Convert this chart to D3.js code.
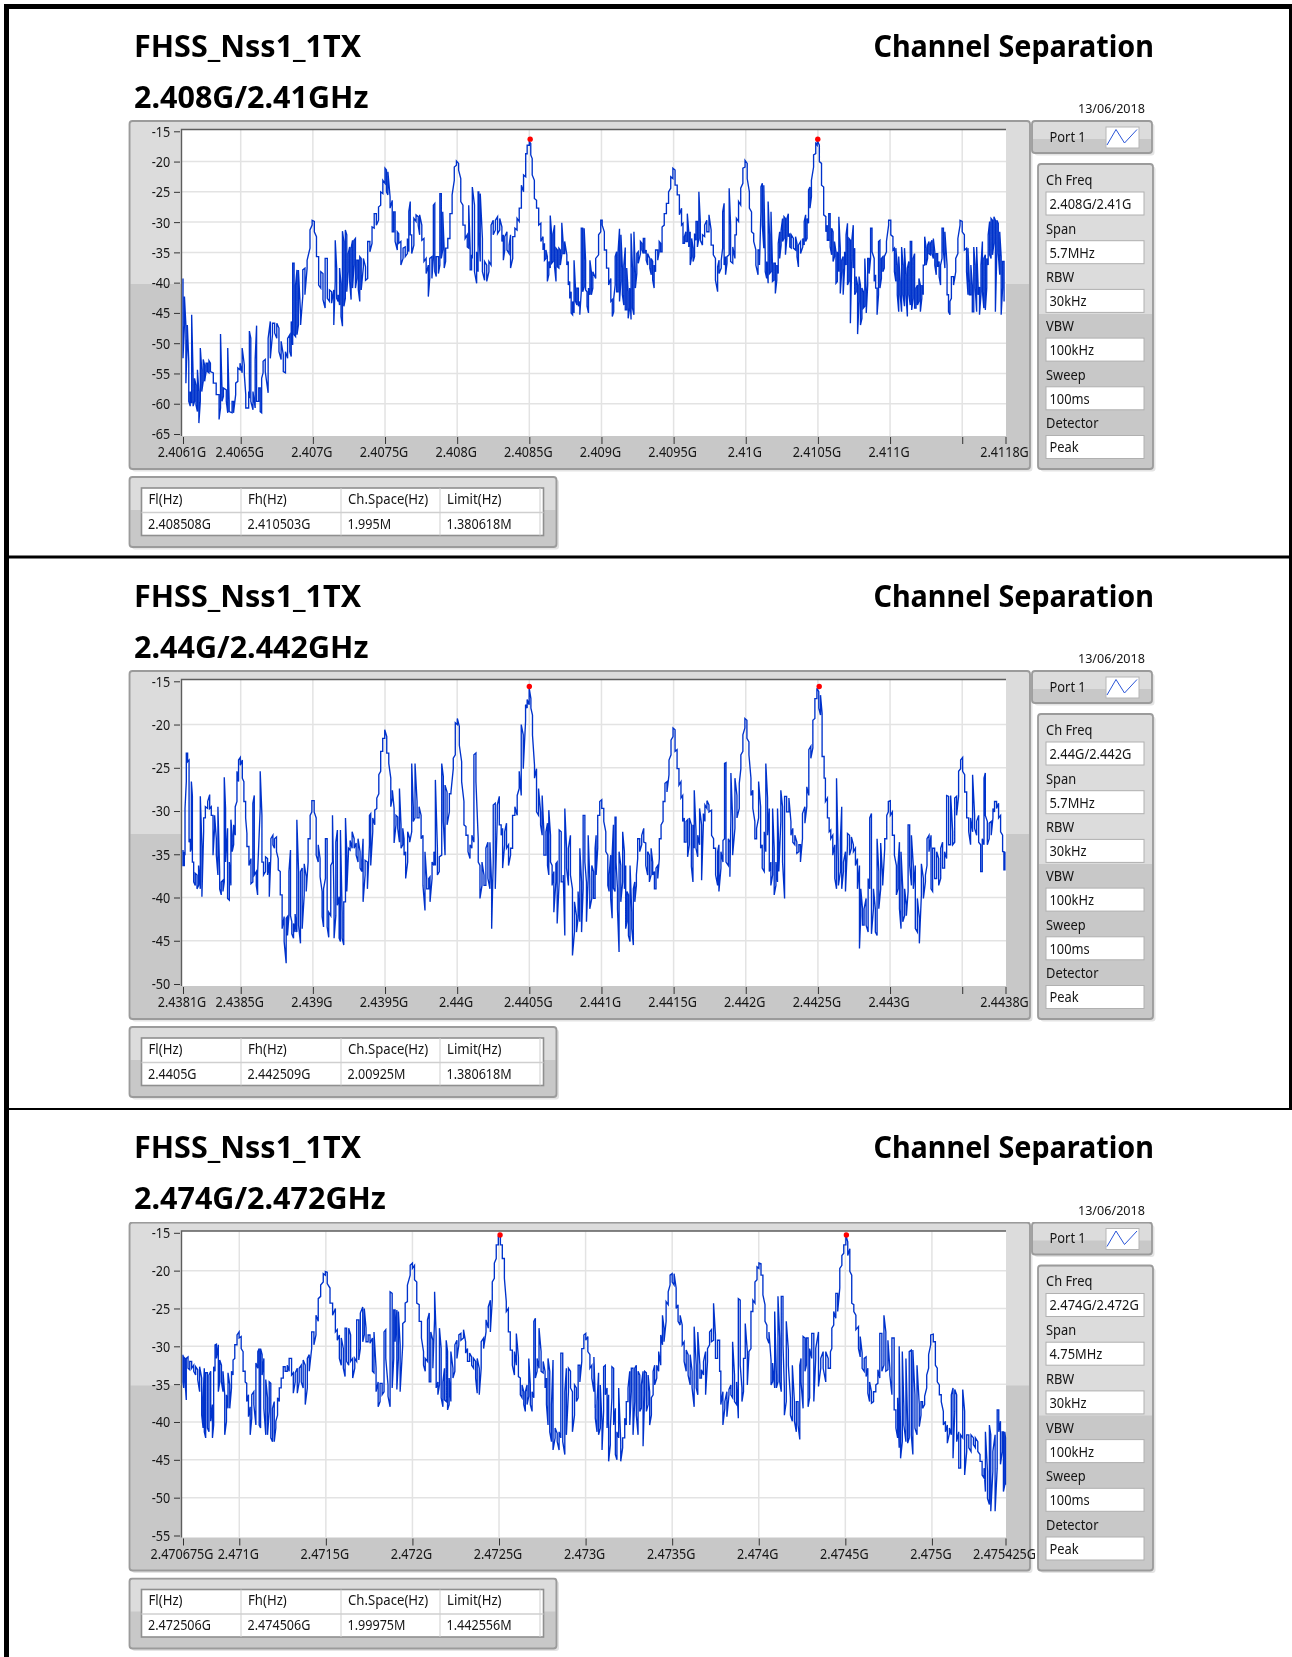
<!DOCTYPE html>
<html><head><meta charset="utf-8"><style>
html,body{margin:0;padding:0;background:#fff}
svg{display:block}
text{font-family:"Noto Sans",sans-serif;fill:#141414}
</style>
<script src="https://cdn.jsdelivr.net/npm/d3@7"></script></head><body>
<svg id="c" width="1292" height="1657"></svg>
<script>
const titleLeft = "FHSS_Nss1_1TX";
const titleRight = "Channel Separation";
const dateLabel = "13/06/2018";
const portLabel = "Port 1";
const subtitles = ["2.408G/2.41GHz", "2.44G/2.442GHz", "2.474G/2.472GHz"];
const yDomains = [[-15, -65], [-15, -50], [-15, -55]];
const spans = [5700, 5700, 4750];
const yTicks = [
  [-15, -20, -25, -30, -35, -40, -45, -50, -55, -60, -65],
  [-15, -20, -25, -30, -35, -40, -45, -50],
  [-15, -20, -25, -30, -35, -40, -45, -50, -55]
];
const xTicks = [
  [0, 400, 900, 1400, 1900, 2400, 2900, 3400, 3900, 4400, 4900, 5400, 5700],
  [0, 400, 900, 1400, 1900, 2400, 2900, 3400, 3900, 4400, 4900, 5400, 5700],
  [0, 325, 825, 1325, 1825, 2325, 2825, 3325, 3825, 4325, 4750]
];
const xLabels = [
  ["2.4061G", "2.4065G", "2.407G", "2.4075G", "2.408G", "2.4085G", "2.409G", "2.4095G", "2.41G", "2.4105G", "2.411G", "", "2.4118G"],
  ["2.4381G", "2.4385G", "2.439G", "2.4395G", "2.44G", "2.4405G", "2.441G", "2.4415G", "2.442G", "2.4425G", "2.443G", "", "2.4438G"],
  ["2.470675G", "2.471G", "2.4715G", "2.472G", "2.4725G", "2.473G", "2.4735G", "2.474G", "2.4745G", "2.475G", "2.475425G"]
];
const paramNames = ["Ch Freq", "Span", "RBW", "VBW", "Sweep", "Detector"];
const paramValues = [
  ["2.408G/2.41G", "5.7MHz", "30kHz", "100kHz", "100ms", "Peak"],
  ["2.44G/2.442G", "5.7MHz", "30kHz", "100kHz", "100ms", "Peak"],
  ["2.474G/2.472G", "4.75MHz", "30kHz", "100kHz", "100ms", "Peak"]
];
const tableHead = ["Fl(Hz)", "Fh(Hz)", "Ch.Space(Hz)", "Limit(Hz)"];
const tableRows = [
  ["2.408508G", "2.410503G", "1.995M", "1.380618M"],
  ["2.4405G", "2.442509G", "2.00925M", "1.380618M"],
  ["2.472506G", "2.474506G", "1.99975M", "1.442556M"]
];
// marker frequency (kHz from the sweep start), level (dBm)
const peaks = [
  [[2406, -16.3], [4399, -16.3]],
  [[2400, -15.6], [4409, -15.6]],
  [[1831, -15.3], [3831, -15.3]]
];
// [kHz from the sweep start, upper dBm, lower dBm] for each trace column
const trace1 = [[0,-39.3,-52.5],[10,-42.3,-47],[20,-47,-56.6],[30,-47,-49.2],[40,-53,-59.6],[50,-58,-60.4],[60,-45.3,-59.9],[70,-55.2,-60.4],[80,-55.8,-59.6],[90,-56.9,-60.2],[100,-54.4,-61.3],[110,-58,-63.2],[120,-50.8,-59.6],[130,-54.4,-58],[140,-52.7,-56.3],[150,-53.6,-56.3],[160,-53.3,-54.7],[170,-53.3,-54.7],[180,-52.9,-54.9],[190,-53.3,-54.7],[210,-54.9,-56.6],[230,-56.6,-58.5],[250,-58.5,-62.6],[260,-48.5,-60.7],[270,-57.4,-59.6],[280,-57.4,-58.8],[300,-57.7,-59.6],[310,-50.8,-61.5],[320,-59.6,-61.3],[340,-59.6,-61.5],[350,-59.6,-61.5],[365,-56.6,-58.5],[380,-54.1,-56.3],[395,-53.3,-54.4],[410,-50.8,-54.9],[425,-53.6,-55.2],[435,-58.5,-60.7],[455,-58,-60.7],[460,-48,-59.1],[470,-49.2,-59.6],[485,-58,-61],[500,-52.7,-60.7],[510,-47.1,-59.6],[525,-57.4,-59.6],[535,-57.4,-61.3],[545,-55.8,-61.5],[555,-53,-54.9],[570,-52.7,-54.7],[590,-49.2,-58.2],[605,-46.4,-52.5],[620,-46.7,-48.6],[635,-46.7,-48.3],[650,-46.7,-49.2],[665,-47.5,-51.4],[680,-49.7,-52.7],[695,-51.9,-54.7],[710,-51.4,-54.9],[725,-49.2,-52.5],[740,-48.6,-51.4],[750,-46.4,-52.2],[760,-36.8,-50.3],[770,-36.8,-48.6],[780,-40.4,-48.9],[790,-37.9,-48.6],[800,-37.9,-47],[815,-45.3,-47],[830,-37.9,-42.3],[845,-37.6,-42],[860,-36.3,-37.6],[880,-31.3,-34.3],[895,-29.7,-30.5],[910,-29.9,-31.6],[925,-32.4,-35.7],[940,-35.7,-40.4],[955,-38.2,-40.9],[970,-38.5,-42.8],[985,-36,-44.2],[1000,-36,-42.6],[1015,-41.2,-43.1],[1030,-41.5,-43.4],[1045,-41.2,-47],[1055,-33,-39.8],[1065,-37.6,-42.6],[1075,-42,-43.1],[1085,-37.6,-43.7],[1095,-40.1,-45.6],[1105,-31.5,-47.2],[1115,-33.2,-43.9],[1125,-31.3,-42.6],[1135,-32.1,-41.5],[1145,-35.2,-38.2],[1155,-34.1,-39.8],[1165,-34.3,-42.8],[1175,-33,-40.9],[1185,-33,-37.1],[1195,-32.7,-40.9],[1205,-36.3,-39.3],[1215,-36.3,-41.2],[1225,-35.7,-43.1],[1235,-36,-41.2],[1250,-36,-37.4],[1265,-37.4,-39.6],[1280,-33.2,-39.3],[1295,-33.2,-34.9],[1310,-30.8,-33.5],[1325,-28.6,-31],[1340,-28.6,-30.5],[1355,-27.5,-29.7],[1370,-25,-27.2],[1385,-23.1,-25.3],[1400,-21.1,-23.6],[1410,-21.4,-25],[1420,-21.7,-25.5],[1435,-25.8,-27.7],[1450,-26.4,-31.6],[1460,-28.3,-31.6],[1470,-28.3,-33.2],[1485,-31.6,-34.6],[1495,-31.9,-33.5],[1510,-33.2,-37.1],[1525,-34.3,-36],[1540,-34.1,-35.7],[1555,-32.7,-35.2],[1565,-28.2,-34.9],[1575,-26.6,-32.1],[1585,-32.1,-35.2],[1600,-29.4,-33.8],[1615,-28.8,-29.9],[1630,-29.1,-30.5],[1640,-28.8,-32.1],[1655,-30.5,-33],[1670,-32.7,-36.5],[1685,-36,-38.5],[1700,-37.1,-42.3],[1710,-36,-39.3],[1725,-35.7,-39.3],[1735,-27.2,-36],[1745,-26.9,-38.2],[1755,-35.7,-39],[1770,-35.7,-38.5],[1780,-25.3,-37.1],[1790,-25.3,-36],[1800,-28.3,-34.6],[1810,-34.6,-37.6],[1820,-34.3,-36.5],[1835,-32.7,-34.3],[1850,-28.6,-32.7],[1865,-25.5,-28.6],[1880,-20.9,-23.1],[1895,-19.9,-20.6],[1910,-20.3,-21.4],[1925,-22.8,-26.6],[1940,-27.2,-30.5],[1955,-30.5,-32.7],[1970,-32.1,-34.1],[1980,-27.2,-34.3],[1990,-34.3,-37.9],[2000,-35.4,-37.9],[2005,-24.2,-36],[2020,-27.2,-38.2],[2035,-34.9,-40.1],[2045,-25,-38.2],[2050,-25,-31.6],[2060,-25.3,-36.5],[2075,-32.7,-38.2],[2090,-36.5,-39.6],[2105,-37.1,-39.8],[2120,-36.5,-38.2],[2135,-30.5,-37.1],[2150,-29.7,-32.1],[2165,-29.7,-31.3],[2180,-29.1,-31.9],[2195,-29.4,-31.3],[2210,-30.8,-33.2],[2220,-32.1,-36.3],[2230,-32.4,-34.6],[2245,-31.6,-34.6],[2260,-33.8,-35.2],[2270,-32.1,-37.6],[2285,-32.4,-36],[2300,-31,-32.4],[2315,-29.4,-31.3],[2330,-27.7,-29.9],[2345,-23.9,-27.7],[2360,-22.2,-25],[2375,-18.7,-22.5],[2385,-17.3,-18.7],[2400,-16.7,-17.3],[2410,-17,-18.9],[2420,-19.5,-22.2],[2435,-23.1,-26.1],[2450,-26.4,-27.7],[2465,-27.7,-30.5],[2480,-30.2,-33.2],[2495,-32.4,-34.6],[2505,-33.5,-36.3],[2515,-34.6,-36],[2525,-35.7,-39.8],[2535,-36.5,-38.7],[2545,-28.9,-37.6],[2555,-32.1,-36.8],[2565,-31.9,-36.5],[2575,-30.5,-37.4],[2585,-34.3,-39.8],[2595,-34.6,-37.4],[2605,-34.3,-37.6],[2615,-34.6,-37.1],[2625,-30.1,-35.4],[2635,-33.5,-35.2],[2645,-33.2,-35.2],[2660,-35.4,-37.1],[2670,-36.5,-40.4],[2680,-39.8,-42.6],[2690,-41.5,-45],[2700,-43.1,-45.3],[2710,-36.3,-45],[2720,-40.9,-43.1],[2730,-40.9,-43.7],[2740,-40.9,-43.9],[2750,-43.1,-45.3],[2760,-31,-41.5],[2770,-31,-41.5],[2780,-31,-40.7],[2790,-36.3,-41.2],[2800,-41.5,-43.9],[2810,-40.9,-45],[2820,-36.3,-42],[2830,-38.2,-42],[2840,-38.2,-40.9],
[2860,-36,-39.3],[2880,-32.1,-35.4],[2895,-29.7,-31.6],[2905,-29.7,-30.5],[2920,-31.6,-34.6],[2935,-34.6,-37.6],[2950,-37.6,-40.4],[2965,-39.3,-43.1],[2975,-42.8,-45.6],[2985,-42.6,-44.8],[2995,-35.7,-40.4],[3005,-34.9,-41.5],[3015,-34.9,-41.5],[3025,-31.1,-43.1],[3035,-32.1,-39.8],[3045,-37.6,-42],[3055,-37.1,-43.7],[3065,-34.2,-44.5],[3075,-37.6,-44.5],[3085,-41.5,-45.9],[3095,-40.9,-44.2],[3105,-31.9,-46.1],[3115,-37.6,-44.2],[3125,-31.6,-45.3],[3135,-38.5,-40.9],[3145,-35.2,-38.5],[3155,-34.9,-36.8],[3170,-33.2,-35.2],[3180,-33.5,-34.6],[3190,-32.7,-35.2],[3200,-32.7,-35.2],[3210,-34.6,-36.3],[3220,-35.2,-37.1],[3235,-36,-37.6],[3245,-36,-38.7],[3255,-36.5,-39.6],[3265,-37.1,-40.9],[3275,-34.6,-38.2],[3290,-34.6,-36.3],[3300,-33.2,-34.9],[3310,-33.5,-34.9],[3320,-30.8,-34.9],[3335,-28.6,-30.5],[3350,-26.9,-28.6],[3365,-25,-26.9],[3380,-22.5,-24.4],[3395,-21.1,-22.8],[3410,-21.4,-23.9],[3425,-23.9,-25.5],[3440,-25.5,-28.8],[3455,-27.7,-30.5],[3465,-30.2,-33.5],[3475,-32.4,-33.5],[3485,-31.6,-33.2],[3495,-28.6,-33.2],[3505,-31.6,-34.1],[3515,-31.6,-37.1],[3525,-32.7,-35.7],[3535,-34.3,-36.5],[3545,-31.9,-35.7],[3555,-29.9,-33],[3565,-29.9,-34.1],[3575,-25,-32.7],[3585,-29.9,-33],[3600,-32.1,-33.8],[3615,-30.5,-32.4],[3630,-29.7,-31.6],[3645,-28.8,-31.6],[3660,-31.3,-33.8],[3675,-33.8,-35.4],[3690,-36,-39.6],[3705,-37.4,-41.5],[3715,-36.3,-38.5],[3730,-36.3,-37.6],[3740,-28.3,-34.3],[3750,-26.9,-37.1],[3760,-35.7,-38.7],[3770,-35.7,-36.8],[3785,-24.4,-35.4],[3795,-30.5,-36.5],[3810,-34.1,-36.8],[3825,-32.1,-36],[3835,-29.4,-32.1],[3850,-26.6,-29.9],[3865,-24.4,-27.2],[3880,-21.1,-23.6],[3895,-19.8,-20.9],[3910,-20.3,-22.8],[3925,-25,-27.7],[3940,-28.3,-31.6],[3955,-31.9,-33.2],[3970,-34.6,-37.1],[3985,-34.6,-38.7],[3995,-34.6,-37.1],[4005,-24.2,-28.3],[4015,-23.6,-30.5],[4025,-23.9,-34.3],[4035,-35.4,-38.2],[4045,-36.5,-39.3],[4055,-26.6,-40.1],[4065,-32.1,-38.5],[4075,-28.3,-38.2],[4085,-37.1,-39.8],[4095,-36.8,-39.6],[4105,-36.8,-41.8],[4115,-37.1,-39.6],[4125,-33.5,-38.5],[4135,-31.6,-36],[4145,-31.3,-33.8],[4155,-29.4,-33.2],[4165,-29.1,-32.7],[4175,-29.4,-35.4],[4185,-29.4,-32.7],[4195,-28.6,-32.4],[4205,-31.9,-34.1],[4215,-32.1,-34.3],[4230,-32.7,-34.3],[4245,-32.4,-34.6],[4255,-33.5,-35.7],[4265,-33.8,-37.4],[4280,-33.2,-35.2],[4295,-32.7,-34.1],[4305,-29.9,-33.8],[4315,-28.8,-33.2],[4325,-29.4,-32.7],[4335,-24.7,-30.2],[4345,-24.2,-27.7],[4355,-23.1,-25.8],[4370,-18.9,-20.9],[4385,-17,-18.7],[4395,-16.5,-17.3],[4410,-17.3,-20],[4425,-20.3,-23.9],[4440,-24.2,-28.8],[4455,-29.1,-31.6],[4465,-30.5,-33],[4475,-28.6,-33],[4485,-28.6,-34.1],[4495,-31,-35.4],[4505,-31.6,-36.5],[4515,-33.2,-35.7],[4525,-34.9,-40.1],[4535,-34.9,-39.8],[4545,-29.1,-38.2],[4555,-34.3,-41.8],[4565,-36.3,-38.2],[4575,-35.7,-42],[4585,-34.9,-37.6],[4595,-32.1,-37.1],[4605,-30.2,-40.4],[4615,-32.7,-39.8],[4625,-33,-46.7],[4635,-33,-36],[4645,-30.5,-37.6],[4655,-34.3,-42],[4665,-39,-41.5],[4675,-40.4,-48.5],[4685,-39,-43.1],[4695,-40.4,-47],[4705,-40.9,-45.9],[4715,-41.5,-44.2],[4725,-36,-43.9],[4735,-41.5,-45],[4745,-36,-40.4],[4755,-36,-38.5],[4765,-31,-36],[4775,-31,-34.9],[4790,-36,-39.8],[4800,-38.7,-40.9],[4810,-40.9,-45.3],[4820,-33.2,-42],[4830,-33,-40.9],[4840,-36,-39.3],[4850,-35.7,-38.2],[4860,-35.7,-37.6],[4875,-33.2,-34.9],[4890,-29.7,-30.5],[4905,-29.7,-32.1],[4920,-32.4,-34.6],[4930,-34.3,-38.2],[4940,-34.3,-39.8],[4950,-37.1,-42],[4960,-35.7,-44.8],[4970,-39.8,-42],[4980,-34.1,-44.8],[4990,-37.1,-42],[5000,-34.3,-43.9],[5010,-38.7,-42],[5020,-37.6,-45.6],[5030,-36.5,-42],[5040,-33.2,-43.7],[5050,-33.2,-44.5],[5060,-36,-42.6],[5070,-35.2,-44.2],[5080,-40.9,-44.2],[5090,-40.4,-43.7],[5100,-39.3,-43.1],[5110,-40.4,-44.8],[5120,-40.4,-42.6],[5130,-37.1,-42],[5140,-32.4,-37.1],[5150,-34.3,-37.1],[5160,-33.8,-36],[5170,-33.2,-35.2],[5180,-33.5,-35.4],[5190,-33,-35.2],[5200,-32.7,-36],[5210,-34.9,-37.1],[5220,-35.2,-38.7],[5230,-35.2,-37.4],[5240,-36.5,-39],[5250,-37.1,-40.4],[5260,-31,-36],[5270,-31,-34.9],[5280,-31.6,-37.6],[5295,-37.1,-42],[5305,-42,-44.8],[5315,-43.1,-45.3],[5325,-39,-42.6],[5340,-39,-40.4],[5355,-36,-38.2],[5370,-32.7,-35.2],[5385,-29.7,-30.5],[5400,-29.9,-31.6],[5415,-32.1,-34.6],[5430,-34.3,-38.2],[5440,-34.3,-42],[5450,-40.1,-42],[5460,-37.1,-42],[5470,-40.4,-44.8],[5480,-34.1,-44.8],[5490,-37.1,-40.9],[5500,-34.1,-44.8],[5510,-40.4,-42],[5520,-40.7,-45.3],[5530,-37.1,-42],[5540,-33.2,-41.5],[5550,-36,-44.2],[5560,-35.4,-44.5],[5570,-36,-40.9],[5580,-32.1,-37.1],[5590,-29.9,-35.4],[5600,-29.4,-36],[5610,-29.7,-35.4],[5620,-29.1,-33.5],[5630,-29.7,-44.8],[5640,-29.7,-34.9],[5650,-30.2,-35.2],[5660,-31.6,-38.7],[5670,-35.7,-45.3],[5680,-36.5,-40.9],[5690,-36.5,-43.1]];
const trace2 = [[0,-34.5,-36.3],[9,-34.7,-36.3],[14,-29.7,-35.1],[23,-23.3,-26.6],[32,-23.3,-24.3],[42,-24.1,-33.6],[51,-33.2,-34.7],[58,-26.6,-34.3],[65,-28.2,-35.9],[74,-35.9,-38.2],[85,-37.2,-38.6],[97,-37.4,-39],[108,-36.3,-38.6],[120,-28.3,-39],[131,-34.1,-39.9],[143,-30.8,-32.4],[155,-29.5,-30.8],[171,-28.9,-29.7],[185,-28.1,-29.7],[196,-29.5,-30.5],[208,-30.5,-35.1],[219,-30.5,-32],[231,-33.2,-35.1],[242,-29.5,-37.4],[254,-37,-39],[265,-38.2,-39.7],[277,-38,-39.3],[286,-26.1,-38.2],[295,-29.7,-35.9],[309,-32,-40.1],[321,-35.9,-40.3],[332,-31,-38.6],[341,-32.8,-34.7],[351,-31.6,-33.9],[362,-29.5,-32.8],[374,-25.4,-28.9],[385,-24.1,-26.6],[397,-23.8,-24.7],[411,-24.1,-26.2],[422,-26.6,-28.9],[434,-28.9,-30.8],[443,-32.6,-34.1],[457,-34.1,-36.3],[471,-35.5,-38.4],[484,-29.1,-38.2],[494,-28.2,-37.4],[508,-37,-38.6],[517,-37.2,-39.7],[535,-25.4,-29.7],[547,-30.5,-35.9],[558,-35.9,-37.4],[572,-35.3,-37],[586,-35.5,-37.4],[598,-35.9,-39.9],[609,-33.2,-35.1],[623,-32.8,-33.9],[634,-33.2,-34.3],[648,-33,-34.7],[660,-35.5,-36.8],[674,-37,-39.7],[687,-39.7,-43.6],[701,-42.2,-45.1],[715,-42.4,-47.6],[724,-42.2,-44.4],[734,-37,-42.1],[745,-34.5,-42.1],[754,-42.8,-44.2],[766,-43,-44.7],[777,-41.9,-44],[789,-31,-44],[801,-37,-43.2],[814,-37,-45.3],[826,-36.6,-43.6],[840,-36.1,-39.7],[854,-37.6,-39.3],[867,-33.2,-35.9],[881,-30.5,-33.2],[893,-28.8,-30.1],[909,-28.8,-30.1],[923,-30.8,-35.1],[937,-33.9,-35.9],[950,-35.5,-37.6],[964,-39.3,-42.2],[974,-39,-43.4],[987,-33.2,-37.8],[999,-33.2,-43.4],[1010,-41.7,-44.6],[1024,-36.3,-42.1],[1036,-30.5,-35.9],[1047,-40.9,-44.7],[1059,-33.6,-42.1],[1070,-32.2,-40.9],[1082,-39.9,-44.7],[1091,-32.2,-45.1],[1103,-41.7,-44.7],[1114,-40.5,-45.5],[1126,-30.8,-40.5],[1135,-34.7,-39.3],[1147,-34.3,-34.7],[1158,-33.4,-34.5],[1172,-32.4,-34.3],[1186,-33.2,-34.3],[1200,-33.7,-35.1],[1213,-33.2,-35.9],[1227,-34.7,-36.6],[1239,-35.7,-37],[1248,-33.2,-40.5],[1262,-35.7,-37.4],[1278,-35.9,-39],[1292,-30.5,-33.9],[1301,-30.3,-36.3],[1315,-30.8,-32.4],[1329,-29.9,-31.6],[1343,-28.5,-29.7],[1357,-25.8,-28],[1370,-23.1,-25.4],[1384,-21.6,-23.1],[1398,-20.6,-21.6],[1412,-21.4,-23.3],[1426,-23.3,-24.5],[1440,-26.2,-29.5],[1451,-27.6,-28.5],[1463,-29.7,-33.7],[1476,-30.5,-31.6],[1488,-30.7,-32],[1500,-27.4,-33.6],[1511,-31.6,-34.3],[1523,-32,-33.9],[1532,-33.2,-35.1],[1543,-34.7,-37.8],[1557,-32.4,-35.9],[1571,-33.2,-33.6],[1585,-24.5,-32.4],[1596,-29.5,-31.2],[1608,-24.5,-30.8],[1622,-28.9,-30.8],[1636,-29.5,-30.8],[1650,-30.5,-33.2],[1663,-32.8,-38.6],[1677,-34.7,-41.5],[1689,-37.8,-39],[1703,-37.8,-39],[1712,-37.6,-40.5],[1726,-35.9,-37.8],[1739,-34.7,-36.3],[1749,-26.4,-36.3],[1763,-34.3,-37.4],[1776,-35.3,-37],[1793,-24.5,-35.1],[1804,-26,-31.2],[1816,-27,-35.1],[1830,-27.8,-31.6],[1846,-28,-30.1],[1857,-27.8,-28],[1873,-23.9,-25.1],[1887,-19.8,-23.5],[1901,-19.3,-20],[1915,-20.2,-22.4],[1931,-24.3,-26.6],[1947,-28.9,-31.6],[1961,-31.8,-32.8],[1975,-32.8,-34.7],[1989,-33.9,-35.5],[2002,-32.8,-34.3],[2016,-23.5,-33.6],[2030,-23.3,-26.6],[2046,-33.2,-35.9],[2058,-36.3,-40.1],[2072,-35.9,-38.6],[2086,-37.4,-38.6],[2099,-34.3,-38.6],[2113,-33.6,-37.8],[2127,-33.6,-39],[2139,-38.6,-43.6],[2150,-29.3,-35.9],[2164,-29.1,-39],[2178,-29.3,-30.8],[2192,-28.3,-31.6],[2205,-31.6,-32.8],[2215,-32,-36.6],[2229,-32.4,-33.9],[2242,-31.4,-34.3],[2256,-33.9,-36.3],[2270,-34.3,-35.1],[2284,-30.5,-34.3],[2300,-29.5,-30.5],[2316,-28.2,-30.5],[2330,-25.4,-27.4],[2344,-20,-28.2],[2358,-21.2,-25.1],[2374,-17.7,-19.6],[2385,-17.1,-18.1],[2399,-15.8,-17.7],[2411,-17,-18.1],[2422,-18.9,-21.2],[2436,-24.7,-26.2],[2450,-25.1,-30.1],[2464,-27.4,-30.5],[2478,-30.1,-31.6],[2489,-28.2,-32.8],[2501,-32.4,-35.1],[2515,-32.4,-35.1],[2526,-31.4,-36.3],[2535,-29.9,-37.4],[2547,-32.8,-35.9],[2558,-36.3,-38.6],[2570,-37,-41.7],[2584,-36.1,-38.2],[2593,-35.9,-43],[2607,-32.2,-38.2],[2621,-32.4,-38.2],[2635,-37.4,-38.2],[2646,-29.7,-44.4],[2658,-34.3,-36.6],[2671,-34.3,-38.6],[2685,-32.8,-37.4],[2699,-39,-46.7],[2713,-40.5,-44],[2727,-42.1,-44],[2738,-39.3,-42.4],[2750,-34.3,-42.8],[2762,-38.2,-44],[2773,-30.5,-39],[2785,-30.5,-35.9],[2796,-38.2,-42.8],[2808,-32.8,-37.8],[2819,-37.8,-41.3],[2833,-36.3,-40.1],[2845,-37,-40.1],
[2856,-34.3,-40.1],[2863,-32.8,-37.4],[2874,-30.5,-34.3],[2888,-28.9,-30.5],[2902,-28.7,-29.7],[2916,-29.7,-31.2],[2930,-32.4,-34.7],[2944,-35.1,-38.6],[2953,-37.4,-39.3],[2964,-35.1,-40.1],[2974,-35.1,-42.4],[2983,-31.6,-38.9],[2994,-30.7,-39.3],[3001,-30.7,-35.9],[3011,-39,-41.3],[3022,-34.7,-46.3],[3034,-36.3,-40.5],[3047,-32.4,-38.2],[3059,-34.7,-39],[3068,-36.3,-43.6],[3077,-39.3,-42.8],[3087,-39.7,-44.4],[3098,-36.3,-45.1],[3110,-41.7,-43.6],[3121,-39,-45.5],[3131,-38.2,-40.5],[3142,-37.4,-38.6],[3151,-33.2,-35.5],[3165,-33.2,-34.7],[3179,-32.8,-33.9],[3193,-32,-33.6],[3207,-33.7,-36.3],[3220,-34.7,-37.4],[3232,-35.1,-38.2],[3244,-34.3,-37.4],[3255,-35.9,-37.4],[3267,-37,-39],[3278,-36.6,-39],[3290,-36.3,-37.8],[3301,-33.2,-35.5],[3313,-31.6,-33.2],[3327,-28.9,-31.2],[3340,-26.8,-28.9],[3354,-26.6,-27.8],[3368,-24.1,-25.8],[3382,-21.8,-23.5],[3396,-20.4,-21.4],[3410,-20.6,-23.1],[3424,-22.9,-25.1],[3437,-25.1,-27],[3451,-26.6,-28.5],[3463,-28.2,-31.2],[3474,-30.8,-33.6],[3486,-31.2,-33.6],[3497,-31,-35.3],[3509,-30.8,-33.9],[3523,-31.6,-36.4],[3534,-31.6,-38.2],[3543,-27.6,-34.3],[3555,-32.2,-34.3],[3567,-32.8,-35.3],[3580,-29.7,-33.9],[3594,-31.6,-38],[3606,-30.3,-31.6],[3617,-29.3,-31.2],[3631,-28.8,-29.7],[3645,-29.3,-30.1],[3663,-29.9,-32.8],[3677,-33.2,-34.3],[3691,-34.3,-37.4],[3705,-34.7,-38.6],[3714,-33.9,-39.3],[3728,-34.7,-36.6],[3742,-33.4,-35.9],[3753,-24.5,-33.2],[3763,-24.4,-35.9],[3779,-33.2,-36.3],[3790,-33.6,-37.6],[3797,-25.6,-30.8],[3809,-30.8,-35.1],[3825,-26.2,-32],[3839,-28.2,-30.8],[3855,-26.8,-29.7],[3866,-23.5,-25.1],[3880,-21.2,-23.1],[3894,-19.3,-20.4],[3908,-19.5,-21.6],[3922,-22,-23.5],[3936,-26.2,-28.2],[3949,-27.6,-29.7],[3963,-31.2,-33.2],[3975,-32,-33.2],[3989,-26.6,-30.8],[4003,-29.5,-34.3],[4014,-33.9,-36.6],[4028,-32.4,-37],[4039,-24.5,-34.7],[4051,-28.5,-32.8],[4063,-29.7,-37],[4074,-35.9,-38.6],[4086,-29.7,-37.4],[4097,-34.3,-39.7],[4109,-35.9,-38.6],[4120,-29.7,-38.2],[4129,-34.3,-37],[4143,-27.6,-31.2],[4155,-29.5,-35.9],[4169,-28.3,-40.1],[4183,-28.3,-30.1],[4199,-28.5,-30.1],[4213,-31.2,-32.8],[4226,-32,-33.6],[4240,-32.8,-33.9],[4254,-33.6,-34.9],[4268,-33.9,-34.7],[4279,-33.9,-35.9],[4293,-30.3,-33.2],[4310,-29.5,-31.4],[4323,-27.2,-29.5],[4337,-22.9,-28.2],[4351,-22.5,-23.9],[4365,-19.5,-22.7],[4379,-17,-19.3],[4393,-15.8,-17],[4406,-16.2,-18.1],[4418,-16.6,-18.9],[4429,-18.7,-23.7],[4443,-23.7,-26.2],[4452,-26.2,-28.9],[4466,-28.5,-30.8],[4478,-30.8,-32.4],[4489,-32.2,-33.2],[4503,-32.8,-35.1],[4517,-33.9,-37.8],[4529,-26.2,-39],[4542,-35.9,-38.6],[4556,-33.2,-37],[4565,-29.5,-39],[4577,-35.9,-37],[4591,-34.7,-39.3],[4605,-32.6,-33.9],[4619,-32.8,-35.1],[4632,-33,-34.3],[4646,-33.9,-34.7],[4660,-34.3,-36.3],[4674,-35.5,-39],[4688,-36.3,-45.9],[4697,-39,-42.1],[4709,-41.3,-43.2],[4720,-41.3,-43.2],[4734,-40.1,-43.2],[4748,-37.8,-44],[4759,-30.8,-39],[4771,-30.3,-44.2],[4785,-39,-41.3],[4798,-41.3,-44],[4810,-33.2,-44.4],[4822,-37,-41.3],[4835,-33.7,-39],[4849,-37.8,-38.6],[4863,-33.2,-34.3],[4877,-30.5,-33.2],[4888,-28.9,-30.1],[4902,-28.8,-30.5],[4916,-30.1,-32.8],[4930,-32.8,-35.1],[4944,-36.3,-39.7],[4955,-36.3,-39],[4965,-33.6,-41.3],[4976,-34.7,-43.6],[4988,-39,-42.8],[5001,-39,-42.1],[5013,-40.9,-42.1],[5025,-31.6,-39.3],[5036,-31.6,-36.3],[5048,-32.8,-38.6],[5061,-36.3,-39],[5075,-36.3,-43.6],[5089,-40.1,-44],[5103,-42.4,-45.3],[5117,-36.1,-39.7],[5131,-37.8,-40.1],[5145,-37.4,-38.2],[5156,-33.2,-36.3],[5170,-32.8,-34.7],[5184,-32.8,-39],[5195,-34.3,-39.3],[5209,-34.3,-37.8],[5223,-34.7,-37.8],[5237,-35.5,-38.6],[5251,-34.3,-37.8],[5264,-33.6,-36.6],[5278,-34.7,-36.6],[5292,-28.2,-35.5],[5306,-28.3,-33.9],[5320,-28.2,-33.9],[5334,-32.4,-33.9],[5348,-28.5,-33.6],[5361,-28.3,-30.5],[5375,-25.4,-28.3],[5389,-24.1,-25.1],[5403,-23.8,-25.4],[5417,-25.8,-27.8],[5431,-27.8,-30.8],[5445,-30.8,-32.4],[5458,-30.8,-33.9],[5472,-25.8,-32.4],[5486,-30.5,-32],[5500,-31.2,-32.8],[5514,-30.5,-33.6],[5528,-33.9,-37],[5539,-33.2,-37],[5551,-26.2,-33.9],[5560,-25.6,-30.5],[5574,-31.2,-33.9],[5587,-31.4,-33.2],[5601,-31.2,-32.8],[5613,-29.7,-30.8],[5624,-28.9,-30.1],[5638,-28.9,-29.7],[5652,-29.1,-30.8],[5666,-30.5,-32.4],[5680,-32.8,-34.7],[5689,-34.7,-36.8],[5696,-34.7,-36.8]];
const trace3 = [[0,-31.1,-34.7],[4,-31.4,-35.5],[12,-31.6,-34.7],[19,-31.6,-37.1],[29,-31.4,-32.9],[39,-32,-33.1],[50,-32,-32.9],[62,-32.5,-33.3],[73,-32.7,-33.8],[85,-33.1,-34.4],[96,-32.7,-36],[108,-34.2,-39.1],[116,-36.8,-40.8],[123,-32.9,-41.3],[131,-33.5,-42.1],[141,-33.5,-40.8],[150,-33.8,-41.3],[160,-33.3,-39.9],[170,-37.7,-42.1],[177,-32.7,-40.4],[185,-29.8,-33.3],[193,-29.7,-31.6],[204,-29.8,-36],[212,-31.8,-34.7],[222,-32.5,-34.7],[231,-33.3,-36],[241,-36.4,-41.7],[251,-36.4,-39.9],[260,-33.5,-38.2],[270,-35.1,-38.2],[280,-33.3,-35.5],[289,-31.8,-33.8],[299,-29.8,-31.6],[312,-28.5,-29.8],[324,-28.1,-28.9],[336,-28.7,-30.3],[347,-30.7,-33.3],[359,-33.3,-34.7],[368,-34.9,-37.3],[378,-36.4,-39.3],[388,-38,-41.7],[397,-36.4,-39.5],[409,-36,-37.7],[421,-32.2,-40.4],[432,-30.7,-32.9],[440,-30.3,-40.4],[448,-30.3,-40.8],[457,-31.1,-33.8],[467,-31.6,-38.2],[478,-34.4,-41.7],[488,-36.8,-41.7],[498,-34.7,-38.6],[507,-34.9,-42.1],[517,-38.2,-42.6],[527,-37.3,-42.6],[536,-39.9,-40.8],[546,-36.8,-39.1],[556,-35.5,-37.3],[567,-34.2,-35.5],[579,-32.7,-34.2],[590,-32.7,-33.3],[602,-32.5,-33.3],[613,-31.6,-33.3],[627,-31.6,-33.8],[637,-33.5,-36.2],[648,-33.5,-34.7],[660,-32.9,-36.2],[671,-32.9,-34.7],[683,-32.5,-34.7],[694,-31.8,-35.5],[706,-32.5,-37.7],[718,-31.6,-35.5],[729,-31.1,-33.3],[743,-28.1,-30.3],[756,-28.1,-29.8],[768,-25.9,-28.5],[781,-23.7,-26.7],[795,-21.9,-23.4],[810,-20.4,-21.5],[822,-20.1,-20.6],[833,-20.2,-21.7],[849,-22.3,-24.3],[864,-24.3,-25.9],[880,-25,-28.1],[891,-27.8,-29.2],[903,-28.5,-31.6],[914,-28.9,-32.5],[926,-30.3,-32.9],[936,-27.6,-34],[945,-27.6,-32],[957,-27.6,-32.5],[968,-28.5,-32],[980,-31.6,-34.2],[992,-31.6,-32.9],[1003,-26.5,-32],[1015,-26.5,-31.8],[1024,-25.6,-30.3],[1038,-24.8,-29.4],[1047,-25,-28.5],[1057,-27.6,-29.4],[1069,-28.5,-29.4],[1080,-28.5,-29.6],[1094,-28.9,-33.3],[1103,-28.1,-33.5],[1115,-32.9,-36],[1127,-34.7,-38],[1138,-34.9,-37.3],[1150,-34.9,-36.4],[1161,-28.1,-36],[1171,-27.8,-31.6],[1184,-35.1,-36.6],[1196,-22.8,-38],[1208,-23,-35.5],[1217,-25.2,-31.6],[1225,-25.2,-29.4],[1235,-25.2,-35.7],[1244,-25.4,-31.6],[1254,-29.8,-36],[1269,-27,-29.8],[1283,-24.3,-26.7],[1296,-21.9,-24.1],[1312,-19.3,-20.6],[1325,-19,-19.7],[1337,-19.3,-21.2],[1350,-21.5,-24.3],[1364,-24.5,-26.7],[1377,-26.7,-28.9],[1389,-30.7,-32.5],[1399,-31.6,-33.3],[1412,-26.5,-32],[1422,-25.6,-34.7],[1431,-28.1,-34.7],[1443,-29.2,-32.9],[1453,-22.8,-26.3],[1462,-28.5,-35.5],[1472,-34.7,-36.4],[1481,-27.6,-35.1],[1491,-30.3,-36.8],[1501,-34.7,-38],[1510,-32.9,-37.1],[1520,-29.2,-37.3],[1528,-30.7,-38.4],[1537,-34.2,-37.7],[1547,-30.7,-37.3],[1559,-32.9,-34.2],[1570,-29.8,-33.3],[1582,-29.2,-31.6],[1593,-28.5,-29.8],[1605,-28.3,-29.2],[1620,-27.8,-28.9],[1632,-29.4,-30.9],[1643,-30.3,-32],[1655,-30.9,-32],[1667,-31.4,-32.5],[1678,-31.6,-32.9],[1690,-32,-34.2],[1699,-31.6,-36.2],[1711,-32.9,-36.4],[1722,-29.4,-32.9],[1736,-28.9,-30.3],[1750,-26.5,-28.1],[1763,-24.8,-27.6],[1775,-23.9,-28.1],[1786,-21.5,-23.9],[1798,-19,-21],[1809,-16.6,-18.4],[1821,-15.5,-16.6],[1833,-15.3,-16.6],[1844,-16.6,-18.4],[1856,-18.4,-21],[1867,-24.1,-25.4],[1879,-25,-28.1],[1890,-28.1,-30.5],[1902,-30.5,-32.5],[1914,-30.7,-33.8],[1925,-28.3,-32.5],[1937,-31.4,-34],[1948,-34.2,-36.4],[1958,-35.1,-36.8],[1968,-36,-37.7],[1977,-36,-38.6],[1987,-35.1,-37.7],[1997,-31.6,-36.6],[2006,-35.1,-37.7],[2016,-36,-38.6],[2026,-26.7,-36.8],[2035,-26.3,-34.2],[2045,-31.6,-33.3],[2056,-27.6,-32.9],[2068,-30.7,-33.3],[2080,-32,-33.5],[2091,-33.3,-35.5],[2099,-34.2,-37.7],[2108,-31.6,-40.4],[2118,-33.3,-41.3],[2128,-37.7,-42.6],[2137,-31.8,-43.7],[2149,-40.8,-42.1],[2161,-41.5,-42.6],[2172,-41.3,-43.7],[2182,-30.9,-42.1],[2193,-30.9,-42.6],[2205,-36,-44.3],[2214,-32.9,-41.7],[2226,-32.9,-36],[2238,-33.3,-35.5],[2249,-36,-41.3],[2261,-35.1,-39.1],[2272,-35.5,-37.3],[2282,-32.5,-36.8],[2292,-32.5,-34.7],[2303,-30.3,-32],[2315,-28.5,-30.3],[2326,-28.3,-29.2],[2338,-28.7,-30.7],[2350,-31.1,-32.9],[2361,-32.5,-34.2],[2373,-31.4,-36],[2380,-36.4,-38.2],
[2381,-37.7,-39.5],[2391,-37.3,-41.3],[2400,-33.5,-41.7],[2410,-35.1,-40.8],[2420,-40.4,-43.7],[2429,-32.7,-38.6],[2439,-32.5,-36.4],[2449,-35.5,-40.8],[2458,-36.4,-45.2],[2468,-40.8,-43],[2477,-32.7,-36.8],[2487,-32.9,-40.4],[2497,-38.2,-44.3],[2506,-41.3,-45],[2516,-35.5,-42.1],[2528,-42.6,-45.2],[2539,-42.1,-43.4],[2551,-39.5,-42.1],[2560,-37.3,-40.4],[2570,-35.5,-37.3],[2580,-33.3,-40.4],[2589,-32.9,-36],[2599,-32.9,-41.7],[2609,-32.9,-37.3],[2618,-32.5,-39.1],[2628,-33.3,-41.7],[2638,-33.8,-38.6],[2647,-35.1,-38.2],[2657,-33.3,-43.2],[2666,-33.3,-36.4],[2676,-33.5,-38.6],[2686,-33.8,-37.7],[2695,-36,-40.4],[2705,-36.8,-39.1],[2715,-33.3,-36.4],[2724,-32.5,-35.1],[2736,-32.5,-34.2],[2747,-30.7,-33.3],[2759,-28.5,-32.5],[2769,-25.9,-29.8],[2778,-27.6,-29.4],[2790,-24.1,-26.7],[2802,-22.8,-24.5],[2813,-20.6,-21.9],[2825,-20.4,-21.5],[2836,-20.4,-21.9],[2848,-22.3,-25],[2859,-24.5,-26.7],[2871,-25.9,-27.2],[2883,-27.2,-29.8],[2894,-29.4,-32],[2906,-30.5,-33.3],[2917,-31.1,-33.8],[2929,-31.1,-35.1],[2940,-33.3,-35.5],[2952,-27.4,-38],[2964,-32.5,-35.5],[2973,-28.1,-36.4],[2985,-32.5,-34.2],[2994,-33.1,-34.2],[3006,-32,-33.8],[3018,-30.7,-36.4],[3029,-30.3,-32],[3041,-28.1,-29.8],[3052,-27.8,-29.4],[3064,-24.3,-29.2],[3075,-28.5,-31.6],[3087,-29.2,-31.6],[3099,-29.2,-33.3],[3106,-33.3,-37.7],[3118,-36,-40.4],[3129,-37.3,-38.2],[3141,-36,-39.3],[3153,-35.7,-36.4],[3164,-35.1,-36.4],[3174,-29.4,-36.8],[3185,-33.8,-37.3],[3197,-34.7,-37.7],[3207,-23.7,-39.5],[3218,-23.9,-32.5],[3228,-35.5,-37.3],[3237,-31.6,-36],[3247,-27,-31.6],[3259,-30.7,-35.1],[3268,-30.7,-31.1],[3280,-25.4,-30.3],[3291,-23.9,-25.4],[3303,-21.5,-24.3],[3315,-19.5,-21.2],[3326,-19,-19.7],[3338,-19.1,-20.6],[3349,-20.6,-23.2],[3361,-24.5,-26.7],[3372,-27.2,-28.9],[3384,-28.1,-29.6],[3396,-31.8,-35.1],[3405,-32.2,-34.7],[3417,-25.4,-35.5],[3427,-33.8,-35.5],[3436,-23.4,-34.7],[3446,-28.9,-34.7],[3455,-23.4,-36],[3465,-23.4,-29.8],[3473,-35.5,-39.1],[3484,-26.7,-37.3],[3496,-30.5,-32.5],[3508,-36.8,-39.1],[3519,-32.5,-39.9],[3531,-37.3,-39.9],[3542,-37.3,-41.3],[3552,-37.3,-40.4],[3562,-32.5,-42.3],[3569,-31.6,-34.7],[3581,-28.7,-38.2],[3592,-28.9,-33.3],[3600,-28.9,-32.5],[3610,-28.9,-38],[3619,-30.3,-36.8],[3631,-28.3,-31.6],[3643,-28.3,-37.3],[3654,-30.3,-31.6],[3670,-28.1,-35.3],[3683,-31.6,-32.9],[3697,-30.7,-32.9],[3712,-30.7,-34.7],[3726,-31.6,-32.9],[3739,-30.7,-32.9],[3747,-27.6,-30.3],[3758,-25.4,-27.2],[3770,-23,-26.3],[3781,-23,-25.4],[3793,-19.7,-22.3],[3805,-18,-19.3],[3816,-16.6,-17.7],[3828,-15.3,-16.6],[3839,-16.2,-18],[3851,-17.1,-20.1],[3862,-20.6,-24.3],[3874,-24.5,-25.4],[3886,-25.9,-27.8],[3901,-27.4,-30.3],[3911,-28.7,-31.4],[3922,-30.9,-32.9],[3934,-31.6,-33.3],[3945,-31.4,-34],[3955,-32.9,-36.2],[3965,-34.7,-37.3],[3976,-36,-37.5],[3988,-36,-37.3],[4001,-35.1,-36],[4013,-33.1,-34.9],[4024,-28.3,-34.2],[4036,-28.3,-33.3],[4048,-25.9,-32.5],[4059,-28.1,-33.3],[4071,-29.2,-33.1],[4082,-32.9,-33.8],[4094,-28.9,-36.4],[4107,-28.9,-38.4],[4117,-38.4,-40.8],[4127,-36.8,-42.1],[4136,-30,-43.4],[4144,-41.3,-44.8],[4154,-30.7,-42.6],[4163,-38,-40.4],[4175,-31.6,-42.6],[4185,-40.4,-42.8],[4194,-30.7,-42.1],[4206,-30.5,-41.7],[4215,-30.5,-44.3],[4227,-36.4,-40.8],[4239,-32.5,-41.7],[4252,-37.7,-40.6],[4262,-37.3,-39.1],[4271,-37.3,-38.2],[4283,-36.6,-37.7],[4295,-33.8,-35.5],[4306,-31.1,-32.9],[4318,-28.5,-29.8],[4333,-28.4,-29.4],[4345,-29.4,-32.5],[4356,-32.9,-34.7],[4368,-35.1,-36.4],[4379,-36.4,-37.3],[4391,-38.6,-40.4],[4403,-39.9,-41.3],[4414,-40.4,-42.8],[4426,-40.8,-41.5],[4437,-36.4,-41.7],[4447,-35.5,-44.8],[4457,-35.7,-38.6],[4468,-36.4,-42.6],[4480,-41.3,-46.1],[4491,-41.7,-46.1],[4503,-35.7,-42.1],[4514,-38.6,-47],[4526,-41.7,-43.9],[4538,-41.7,-43.4],[4551,-41.7,-43.9],[4565,-42.1,-43],[4576,-42.1,-43.4],[4590,-42.6,-43.9],[4603,-44.3,-45.2],[4615,-45.2,-47],[4626,-46.1,-47.4],[4634,-41.3,-49.2],[4646,-46.5,-50.1],[4657,-40.4,-50.9],[4665,-41.7,-51.8],[4677,-43.9,-46.5],[4690,-41.7,-51.8],[4702,-38.4,-46.1],[4711,-38.4,-41.3],[4721,-39.9,-45.6],[4731,-41.3,-43.9],[4738,-41.3,-49.2],[4746,-41.3,-48.3],[4750,-42.1,-48.3]];
const traces = [trace1, trace2, trace3];

// ---- layout (not data) ----
const panelOffsets = [0, 550, 1101.5];
const svg = d3.select("#c");
const defs = svg.append("defs");
defs.append("filter").attr("id", "soft").attr("x", "-2%").attr("y", "-2%").attr("width", "104%").attr("height", "104%")
  .append("feGaussianBlur").attr("stdDeviation", 0.35);
const root = svg.append("g").attr("filter", "url(#soft)");

function label(g, str, x, y, opt = {}) {
  const sx = opt.sx ?? 0.9;
  return g.append("text").text(str)
    .attr("transform", `translate(${x},${y}) scale(${sx},1)`)
    .attr("dy", "0.35em")
    .attr("text-anchor", opt.anchor ?? "start")
    .style("font-size", (opt.size ?? 14) + "px")
    .style("font-weight", opt.weight ?? 400)
    .style("fill", opt.fill ?? null);
}
function bevel(g, x, y, w, h, splitY) {
  g.append("rect").attr("x", x + 2.5).attr("y", y + 2.5).attr("width", w).attr("height", h).attr("rx", 3).attr("fill", "#e4e4e4");
  g.append("rect").attr("x", x).attr("y", y).attr("width", w).attr("height", h).attr("rx", 3).attr("fill", "#c8c8c8");
  g.append("rect").attr("x", x + 1).attr("y", y + 1).attr("width", w - 2).attr("height", splitY - y - 1).attr("fill", "#dcdcdc");
  g.append("rect").attr("x", x).attr("y", y).attr("width", w).attr("height", h).attr("rx", 3)
    .attr("fill", "none").attr("stroke", "#9b9b9b").attr("stroke-width", 1.8);
}
// walk each column from the end nearer the previous point, so smooth slopes stay a single line
function walk(columns) {
  const out = [];
  let last = null;
  columns.forEach(d => {
    const a = [d[0], d[1]], b = [d[0], d[2]];
    if (last !== null && Math.abs(last - d[2]) < Math.abs(last - d[1])) { out.push(b, a); last = d[1]; }
    else { out.push(a, b); last = d[2]; }
  });
  return out;
}

panelOffsets.forEach((off, i) => {
  const g = root.append("g").attr("transform", `translate(0,${off})`);

  label(g, titleLeft, 134, 46, {size: 30.5, weight: 700, sx: 1, fill: "#000"});
  label(g, subtitles[i], 134, 97, {size: 30.5, weight: 700, sx: 1, fill: "#000"});
  label(g, titleRight, 1154, 46, {size: 30.5, weight: 700, sx: 0.943, anchor: "end", fill: "#000"});
  label(g, dateLabel, 1145, 108.5, {size: 13, sx: 0.97, anchor: "end"});

  bevel(g, 129.5, 121, 900.5, 348, 284);

  const x = d3.scaleLinear().domain([0, spans[i]]).range([183, 1005.5]);
  const y = d3.scaleLinear().domain(yDomains[i]).range([131.3, 434]);

  g.append("rect").attr("x", 181.5).attr("y", 129.5).attr("width", 824.5).attr("height", 306.5).attr("fill", "#fff");
  const grid = g.append("g").attr("stroke", "#e3e3e3").attr("stroke-width", 1.5);
  yTicks[i].slice(1, -1).forEach(v => grid.append("line").attr("x1", 182).attr("x2", 1006).attr("y1", y(v)).attr("y2", y(v)));
  xTicks[i].slice(1, -1).forEach(v => grid.append("line").attr("y1", 130).attr("y2", 436).attr("x1", x(v)).attr("x2", x(v)));
  g.append("path").attr("d", "M181.5,436V129.5H1006").attr("fill", "none").attr("stroke", "#5d5d5d").attr("stroke-width", 1.4);

  const yAxis = d3.axisLeft(y).tickValues(yTicks[i]).tickFormat(d => String(d)).tickSize(6).tickPadding(3);
  const ya = g.append("g").attr("transform", "translate(180,0)").call(yAxis);
  ya.select(".domain").remove();
  ya.selectAll("line").attr("stroke", "#333");
  ya.selectAll("text").attr("font-family", null).attr("transform", "scale(0.9,1)").attr("x", -11).attr("text-anchor", "end")
    .style("font-size", "14px").attr("dy", "0.35em");

  const xAxis = d3.axisBottom(x).tickValues(xTicks[i]).tickFormat((d, j) => xLabels[i][j]).tickSize(7);
  const xa = g.append("g").attr("transform", "translate(0,437)").call(xAxis);
  xa.select(".domain").remove();
  xa.selectAll("line").attr("stroke", "#333");
  xa.selectAll("text").attr("font-family", null).attr("y", 15.5).attr("dy", "0.35em").attr("transform", "translate(-1.5,0) scale(0.9,1)")
    .style("font-size", "14px");

  const line = d3.line().x(d => x(d[0])).y(d => y(d[1]));
  g.append("path").attr("d", line(walk(traces[i]))).attr("fill", "none").attr("stroke", "#0033cc").attr("stroke-width", 1.35).attr("stroke-linejoin", "miter");

  g.selectAll(".pk").data(peaks[i]).join("circle").attr("cx", d => x(d[0])).attr("cy", d => y(d[1])).attr("r", 2.7).attr("fill", "#ff0000");

  // Port box
  bevel(g, 1032, 121, 120, 32, 139);
  label(g, portLabel, 1049.5, 137, {size: 14, sx: 0.92});
  g.append("rect").attr("x", 1106).attr("y", 127).attr("width", 33).attr("height", 21).attr("fill", "#fff").attr("stroke", "#b5b5b5");
  g.append("path").attr("d", "M1107,145L1116,129.5L1124.5,143L1137,129.5").attr("fill", "none").attr("stroke", "#2a55d8").attr("stroke-width", 1);

  // Parameter box
  bevel(g, 1038, 164, 115, 305, 314);
  paramNames.forEach((n, j) => {
    const top = 192 + j * 48.7;
    label(g, n, 1046, top - 12, {size: 14, sx: 0.92});
    g.append("rect").attr("x", 1046).attr("y", top).attr("width", 98).attr("height", 23).attr("fill", "#fff").attr("stroke", "#b0b0b0");
    label(g, paramValues[i][j], 1049.5, top + 12, {size: 14, sx: 0.92});
  });

  // Result table
  bevel(g, 129.5, 477, 427, 70, 510);
  const colX = [141.5, 241, 341, 440, 544];
  g.append("rect").attr("x", 141.5).attr("y", 488).attr("width", 402).attr("height", 47.5).attr("fill", "#fff").attr("stroke", "#8f8f8f").attr("stroke-width", 1.6);
  colX.slice(1, -1).forEach(cx => g.append("line").attr("x1", cx).attr("x2", cx).attr("y1", 488).attr("y2", 535.5).attr("stroke", "#cfcfcf"));
  g.append("line").attr("x1", 141.5).attr("x2", 543.5).attr("y1", 512.5).attr("y2", 512.5).attr("stroke", "#cfcfcf").attr("stroke-width", 1.4);
  g.append("line").attr("x1", 540).attr("x2", 540).attr("y1", 488).attr("y2", 535.5).attr("stroke", "#cfcfcf");
  tableHead.forEach((t, j) => label(g, t, colX[j] + 7, 499, {size: 14, sx: 0.94}));
  tableRows[i].forEach((t, j) => label(g, t, colX[j] + 6.5, 524, {size: 14, sx: 0.9}));
});

// Black page frame
const frame = svg.append("g").attr("fill", "#000");
frame.append("rect").attr("x", 4).attr("y", 4).attr("width", 1288).attr("height", 5);
frame.append("rect").attr("x", 4).attr("y", 4).attr("width", 5).attr("height", 1653);
frame.append("rect").attr("x", 1289).attr("y", 4).attr("width", 3).attr("height", 1106);
frame.append("rect").attr("x", 9).attr("y", 555.5).attr("width", 1283).attr("height", 3);
frame.append("rect").attr("x", 9).attr("y", 1108).attr("width", 1283).attr("height", 2);
</script></body></html>
